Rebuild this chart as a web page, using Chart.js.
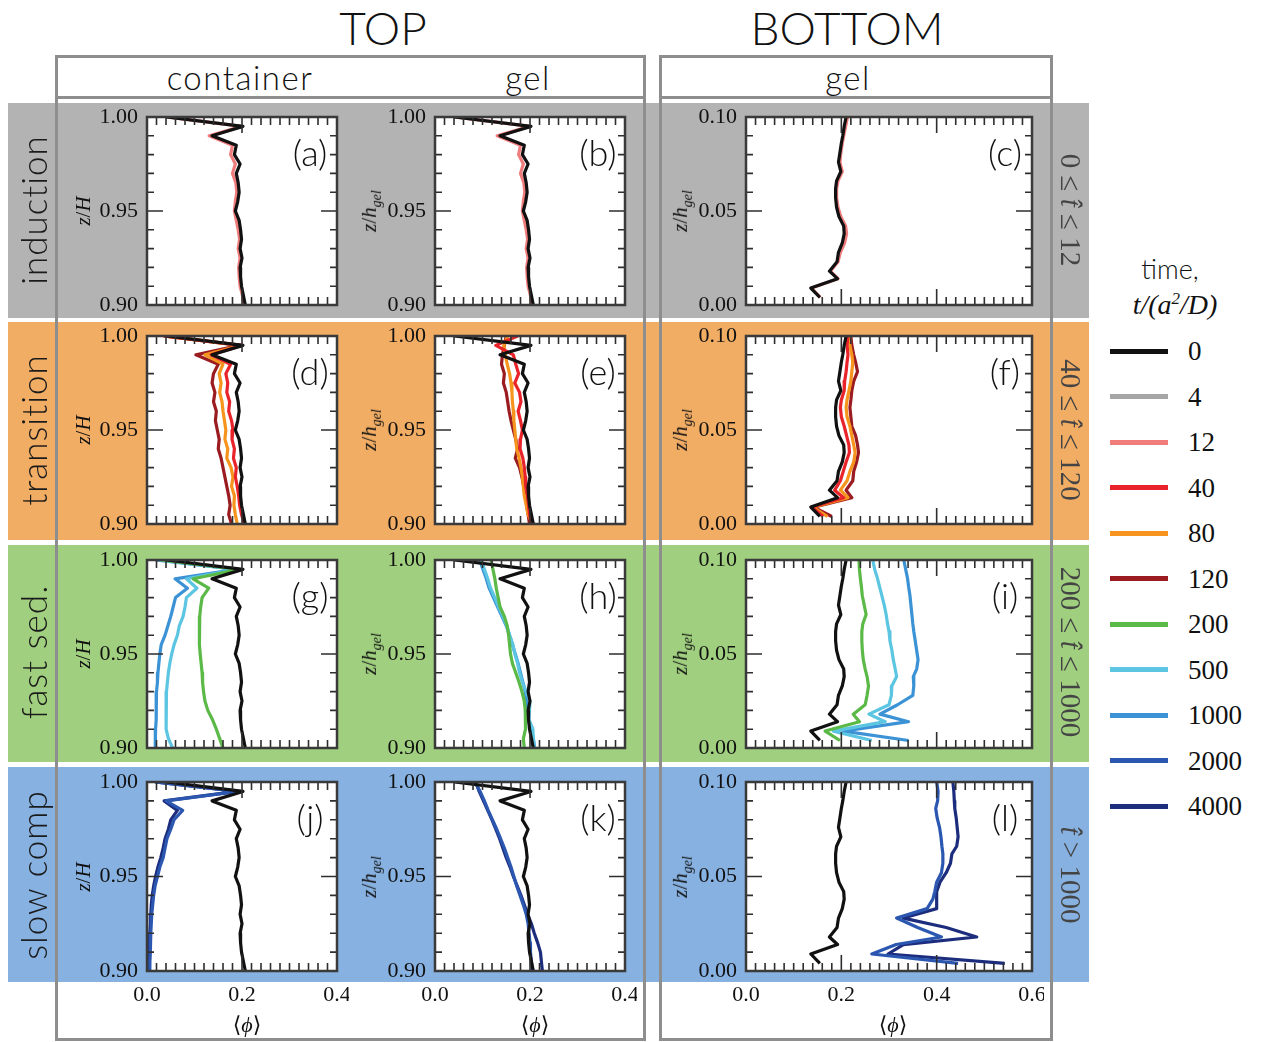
<!DOCTYPE html>
<html>
<head>
<meta charset="utf-8">
<title>volume fraction profiles</title>
<script src="https://cdn.jsdelivr.net/npm/chart.js@4.4.1/dist/chart.umd.min.js"></script>
<style>
  html, body { margin: 0; padding: 0; background: #fff; }
  body { position: relative; width: 1263px; height: 1042px; overflow: hidden; font-family: "Lato", "Open Sans", sans-serif; font-weight: 300; color: #111; }
  .band { position: absolute; left: 8px; width: 1081px; }
  .frame { position: absolute; border: 3px solid #8e8e8e; box-sizing: border-box; }
  .hline { position: absolute; height: 3px; background: #8e8e8e; }
  .ctr { position: absolute; transform: translate(-50%, -50%); white-space: nowrap; }
  .rotl { transform: translate(-50%, -50%) rotate(-90deg); }
  .rotr { transform: translate(-50%, -50%) rotate(90deg); }
  .serif { font-family: "Liberation Serif", "DejaVu Serif", serif; font-weight: 400; }
  canvas { position: absolute; }
</style>
</head>
<body>
<div class="band" style="top:103px;height:215px;background:#b3b3b3"></div>
<div class="band" style="top:322px;height:218px;background:#f2ad65"></div>
<div class="band" style="top:545px;height:217px;background:#a0d07f"></div>
<div class="band" style="top:767px;height:215px;background:#87b1e0"></div>

<div class="frame" style="left:55px;top:55px;width:591px;height:986px"></div>
<div class="hline" style="left:55px;top:96px;width:591px"></div>
<div class="frame" style="left:659px;top:55px;width:394px;height:986px"></div>
<div class="hline" style="left:659px;top:96px;width:394px"></div>

<div class="ctr" style="left:383px;top:27px;font-size:46px">TOP</div>
<div class="ctr" style="left:847px;top:27px;font-size:46px">BOTTOM</div>
<div class="ctr" style="left:240px;top:77px;font-size:33px;letter-spacing:1.5px">container</div>
<div class="ctr" style="left:528px;top:77px;font-size:33px;letter-spacing:1.5px">gel</div>
<div class="ctr" style="left:848px;top:77px;font-size:33px;letter-spacing:1.5px">gel</div>

<div class="ctr" style="left:1170px;top:268px;font-size:27px">time,</div>
<div class="ctr serif" style="left:1175px;top:305px;font-size:28px;font-style:italic">t/(a<sup style="font-size:17px">2</sup>/D)</div>

<script>
// z grids (bins) for the top panels (z/H, z/h_gel near 1) and the bottom panels
const zTop = [1.000, 0.995, 0.990, 0.985, 0.980, 0.975, 0.970, 0.965, 0.960, 0.955, 0.950,
              0.945, 0.940, 0.935, 0.930, 0.925, 0.920, 0.915, 0.910, 0.905, 0.900];
const zBot = [0.100, 0.095, 0.090, 0.086, 0.081, 0.076, 0.071, 0.066, 0.062, 0.057, 0.052,
              0.047, 0.042, 0.038, 0.033, 0.028, 0.023, 0.018, 0.014, 0.009, 0.004];

const timeLabels = ['0', '4', '12', '40', '80', '120', '200', '500', '1000', '2000', '4000'];
const timeColors = ['#111111', '#a6a6a6', '#f07c7c', '#e8232a', '#f7941d', '#9b1c20',
                    '#5bb947', '#5cc6e2', '#3b93d6', '#2b57b1', '#1c2d7d'];

const rowNames = ['induction', 'transition', 'fast sed.', 'slow comp'];
const rowRanges = ['0 ≤ <i>t̂</i> ≤ 12', '40 ≤ <i>t̂</i> ≤ 120', '200 ≤ <i>t̂</i> ≤ 1000', '<i>t̂</i> &gt; 1000'];

const topYTicks = ['0.90', '0.95', '1.00'];
const botYTicks = ['0.00', '0.05', '0.10'];
const topXTicks = ['0.0', '0.2', '0.4'];
const botXTicks = ['0.0', '0.2', '0.4', '0.6'];

// <phi> profiles, top region (same initial profile in container and gel)
const topT0  = [0.041, 0.202, 0.137, 0.188, 0.184, 0.196, 0.188, 0.192, 0.194, 0.191, 0.186, 0.194, 0.197, 0.199, 0.196, 0.200, 0.196, 0.197, 0.199, 0.203, 0.207];
const topT12 = [0.041, 0.200, 0.131, 0.180, 0.176, 0.186, 0.180, 0.187, 0.189, 0.186, 0.184, 0.188, 0.192, 0.195, 0.192, 0.196, 0.193, 0.194, 0.196, 0.201, 0.205];

// container, top
const contT40   = [0.035, 0.200, 0.135, 0.176, 0.166, 0.170, 0.168, 0.174, 0.172, 0.178, 0.181, 0.179, 0.184, 0.182, 0.188, 0.186, 0.190, 0.193, 0.195, 0.199, 0.205];
const contT80   = [0.035, 0.198, 0.122, 0.160, 0.152, 0.156, 0.153, 0.158, 0.160, 0.163, 0.166, 0.164, 0.170, 0.168, 0.177, 0.181, 0.178, 0.184, 0.183, 0.186, 0.190];
const contT120  = [0.035, 0.195, 0.103, 0.150, 0.140, 0.137, 0.143, 0.140, 0.146, 0.144, 0.148, 0.152, 0.150, 0.156, 0.160, 0.164, 0.168, 0.172, 0.175, 0.172, 0.178];
const contT200  = [0.030, 0.195, 0.097, 0.130, 0.116, 0.113, 0.111, 0.111, 0.110, 0.110, 0.112, 0.114, 0.116, 0.117, 0.119, 0.122, 0.128, 0.138, 0.146, 0.153, 0.160];
const contT500  = [0.025, 0.190, 0.083, 0.105, 0.083, 0.080, 0.076, 0.068, 0.064, 0.057, 0.052, 0.048, 0.045, 0.043, 0.041, 0.040, 0.040, 0.040, 0.041, 0.045, 0.054];
const contT1000 = [0.018, 0.188, 0.059, 0.085, 0.060, 0.055, 0.050, 0.044, 0.038, 0.030, 0.027, 0.025, 0.023, 0.022, 0.020, 0.020, 0.019, 0.019, 0.018, 0.018, 0.017];
const contT2000 = [0.017, 0.192, 0.040, 0.075, 0.057, 0.050, 0.042, 0.038, 0.034, 0.027, 0.022, 0.017, 0.014, 0.012, 0.010, 0.009, 0.008, 0.007, 0.007, 0.006, 0.006];
const contT4000 = [0.017, 0.190, 0.036, 0.064, 0.050, 0.045, 0.038, 0.034, 0.029, 0.023, 0.018, 0.014, 0.011, 0.009, 0.008, 0.007, 0.006, 0.005, 0.005, 0.005, 0.005];

// gel, top
const gelT40   = [0.174, 0.128, 0.165, 0.170, 0.176, 0.168, 0.178, 0.181, 0.175, 0.180, 0.184, 0.180, 0.179, 0.185, 0.188, 0.190, 0.191, 0.195, 0.197, 0.199, 0.203];
const gelT80   = [0.153, 0.145, 0.148, 0.152, 0.157, 0.160, 0.162, 0.163, 0.165, 0.166, 0.168, 0.170, 0.172, 0.177, 0.181, 0.184, 0.186, 0.188, 0.192, 0.196, 0.205];
const gelT120  = [0.150, 0.146, 0.142, 0.140, 0.146, 0.144, 0.150, 0.153, 0.156, 0.160, 0.165, 0.170, 0.174, 0.169, 0.178, 0.183, 0.187, 0.190, 0.193, 0.196, 0.199];
const gelT200  = [0.118, 0.122, 0.126, 0.129, 0.133, 0.137, 0.146, 0.152, 0.155, 0.157, 0.159, 0.163, 0.170, 0.177, 0.183, 0.188, 0.190, 0.191, 0.190, 0.186, 0.188];
const gelT500  = [0.097, 0.104, 0.111, 0.117, 0.126, 0.134, 0.143, 0.151, 0.157, 0.164, 0.168, 0.174, 0.178, 0.184, 0.192, 0.200, 0.199, 0.198, 0.206, 0.207, 0.209];
const gelT1000 = [0.094, 0.101, 0.108, 0.114, 0.123, 0.132, 0.141, 0.150, 0.157, 0.163, 0.169, 0.175, 0.180, 0.185, 0.190, 0.193, 0.196, 0.196, 0.203, 0.207, 0.210];
const gelT2000 = [0.084, 0.095, 0.104, 0.112, 0.121, 0.130, 0.138, 0.146, 0.153, 0.160, 0.166, 0.172, 0.179, 0.186, 0.192, 0.196, 0.198, 0.200, 0.201, 0.203, 0.205];
const gelT4000 = [0.086, 0.093, 0.102, 0.111, 0.120, 0.128, 0.136, 0.143, 0.150, 0.158, 0.165, 0.173, 0.181, 0.188, 0.195, 0.203, 0.209, 0.216, 0.222, 0.224, 0.226];

// gel, bottom
const botT0    = [0.210, 0.206, 0.203, 0.200, 0.197, 0.194, 0.199, 0.190, 0.188, 0.188, 0.190, 0.195, 0.205, 0.206, 0.202, 0.194, 0.191, 0.175, 0.192, 0.136, 0.155];
const botT12   = [0.213, 0.209, 0.205, 0.202, 0.199, 0.197, 0.202, 0.193, 0.190, 0.190, 0.193, 0.199, 0.209, 0.211, 0.207, 0.198, 0.193, 0.177, 0.193, 0.137, 0.156];
const botT40   = [0.214, 0.212, 0.214, 0.212, 0.210, 0.207, 0.206, 0.200, 0.198, 0.200, 0.206, 0.211, 0.216, 0.217, 0.210, 0.204, 0.198, 0.186, 0.205, 0.138, 0.162];
const botT80   = [0.217, 0.218, 0.222, 0.224, 0.222, 0.220, 0.216, 0.212, 0.210, 0.212, 0.218, 0.222, 0.226, 0.229, 0.226, 0.218, 0.212, 0.198, 0.214, 0.140, 0.171];
const botT120  = [0.220, 0.222, 0.226, 0.230, 0.234, 0.226, 0.222, 0.220, 0.218, 0.220, 0.222, 0.230, 0.234, 0.236, 0.232, 0.226, 0.224, 0.210, 0.222, 0.142, 0.180];
const botT200  = [0.237, 0.238, 0.240, 0.242, 0.244, 0.248, 0.252, 0.245, 0.243, 0.243, 0.244, 0.246, 0.250, 0.254, 0.257, 0.254, 0.250, 0.225, 0.238, 0.166, 0.197];
const botT500  = [0.266, 0.270, 0.276, 0.280, 0.285, 0.290, 0.294, 0.297, 0.300, 0.302, 0.306, 0.309, 0.313, 0.316, 0.306, 0.305, 0.300, 0.258, 0.292, 0.183, 0.264];
const botT1000 = [0.331, 0.335, 0.339, 0.341, 0.344, 0.346, 0.348, 0.350, 0.352, 0.355, 0.358, 0.361, 0.358, 0.351, 0.352, 0.350, 0.318, 0.281, 0.341, 0.204, 0.341];
const botT2000 = [0.400, 0.403, 0.402, 0.398, 0.401, 0.406, 0.409, 0.411, 0.413, 0.413, 0.410, 0.400, 0.396, 0.392, 0.380, 0.316, 0.360, 0.410, 0.315, 0.264, 0.445];
const botT4000 = [0.434, 0.436, 0.437, 0.438, 0.441, 0.443, 0.445, 0.442, 0.432, 0.429, 0.420, 0.407, 0.400, 0.400, 0.400, 0.330, 0.420, 0.484, 0.330, 0.298, 0.543];

// panels: [time index, profile]; first entry is drawn on top
const panels = [
  { tag: 'a', col: 0, row: 0, sets: [[0, topT0], [2, topT12]] },
  { tag: 'b', col: 1, row: 0, sets: [[0, topT0], [2, topT12]] },
  { tag: 'c', col: 2, row: 0, sets: [[0, botT0], [2, botT12]] },
  { tag: 'd', col: 0, row: 1, sets: [[0, topT0], [3, contT40], [4, contT80], [5, contT120]] },
  { tag: 'e', col: 1, row: 1, sets: [[0, topT0], [3, gelT40], [4, gelT80], [5, gelT120]] },
  { tag: 'f', col: 2, row: 1, sets: [[0, botT0], [3, botT40], [4, botT80], [5, botT120]] },
  { tag: 'g', col: 0, row: 2, sets: [[0, topT0], [6, contT200], [7, contT500], [8, contT1000]] },
  { tag: 'h', col: 1, row: 2, sets: [[0, topT0], [6, gelT200], [7, gelT500], [8, gelT1000]] },
  { tag: 'i', col: 2, row: 2, sets: [[0, botT0], [6, botT200], [7, botT500], [8, botT1000]] },
  { tag: 'j', col: 0, row: 3, sets: [[0, topT0], [9, contT2000], [10, contT4000]] },
  { tag: 'k', col: 1, row: 3, sets: [[0, topT0], [9, gelT2000], [10, gelT4000]] },
  { tag: 'l', col: 2, row: 3, sets: [[0, botT0], [9, botT2000], [10, botT4000]] }
];

const colBox = [[147, 337], [435, 625], [746, 1032]];
const rowBox = [[117, 305], [336, 524], [560, 748], [782, 971]];
const PL = 66, PT = 14, PR = 12, PB = 42;

function addText(html, x, y, cls, style) {
  const d = document.createElement('div');
  d.className = 'ctr ' + (cls || '');
  d.style.left = x + 'px';
  d.style.top = y + 'px';
  d.style.cssText += style || '';
  d.innerHTML = html;
  document.body.appendChild(d);
  return d;
}

// frame with inward ticks on all four sides, plus tick labels
function boxTicks(yTicks, xTicks) {
  return {
    id: 'boxTicks',
    beforeDraw(chart) {
      const { ctx, chartArea: a } = chart;
      ctx.save();
      ctx.fillStyle = '#ffffff';
      ctx.fillRect(a.left, a.top, a.right - a.left, a.bottom - a.top);
      ctx.restore();
    },
    afterDatasetsDraw(chart) {
      const { ctx, chartArea: a, scales } = chart;
      const x = scales.x, y = scales.y;
      ctx.save();
      ctx.strokeStyle = '#2e2e2e';
      ctx.lineWidth = 1.6;
      ctx.beginPath();
      const nx = Math.round(x.max / 0.02);
      for (let i = 0; i <= nx; i++) {
        const px = x.getPixelForValue(i * 0.02);
        const len = i % 10 === 0 ? 16 : 8;
        ctx.moveTo(px, a.top); ctx.lineTo(px, a.top + len);
        ctx.moveTo(px, a.bottom); ctx.lineTo(px, a.bottom - len);
      }
      for (let i = 0; i <= 10; i++) {
        const py = y.getPixelForValue(y.min + i * 0.01);
        const len = i % 5 === 0 ? 16 : 7;
        ctx.moveTo(a.left, py); ctx.lineTo(a.left + len, py);
        ctx.moveTo(a.right, py); ctx.lineTo(a.right - len, py);
      }
      ctx.stroke();
      ctx.strokeStyle = '#3a3a3a';
      ctx.lineWidth = 2.5;
      ctx.strokeRect(a.left, a.top, a.right - a.left, a.bottom - a.top);

      ctx.fillStyle = '#111';
      ctx.font = '22px "Liberation Serif", serif';
      ctx.textAlign = 'right';
      ctx.textBaseline = 'middle';
      yTicks.forEach(s => ctx.fillText(s, a.left - 9, y.getPixelForValue(parseFloat(s))));
      if (xTicks) {
        ctx.textAlign = 'center';
        xTicks.forEach(s => ctx.fillText(s, x.getPixelForValue(parseFloat(s)), a.bottom + 24));
      }
      ctx.restore();
    }
  };
}

function makePanel(p) {
  const [l, r] = colBox[p.col];
  const [t, b] = rowBox[p.row];
  const isBottom = p.col === 2;
  const zs = isBottom ? zBot : zTop;
  const w = r - l + PL + PR, h = b - t + PT + PB;
  const cv = document.createElement('canvas');
  cv.width = w; cv.height = h;
  cv.style.left = (l - PL) + 'px';
  cv.style.top = (t - PT) + 'px';
  cv.style.width = w + 'px';
  cv.style.height = h + 'px';
  document.body.appendChild(cv);

  const datasets = p.sets.map(([ti, phi]) => ({
    label: timeLabels[ti],
    data: phi.map((v, i) => ({ x: v, y: zs[i] })),
    borderColor: timeColors[ti],
    backgroundColor: timeColors[ti],
    borderWidth: 3.2,
    borderJoinStyle: 'round',
    showLine: true,
    pointRadius: 0,
    tension: 0
  }));

  const yMin = isBottom ? 0 : 0.9;
  new Chart(cv, {
    type: 'scatter',
    data: { datasets },
    options: {
      responsive: false,
      animation: false,
      devicePixelRatio: 1,
      layout: { padding: { left: PL, top: PT, right: PR, bottom: PB } },
      plugins: { legend: { display: false }, tooltip: { enabled: false } },
      scales: {
        x: { type: 'linear', min: 0, max: isBottom ? 0.6 : 0.4, display: false },
        y: { type: 'linear', min: yMin, max: yMin + 0.1, display: false }
      }
    },
    plugins: [boxTicks(isBottom ? botYTicks : topYTicks,
                       p.row === 3 ? (isBottom ? botXTicks : topXTicks) : null)]
  });

  addText('(' + p.tag + ')', r - 27, t + 35, '', 'font-size:36px;color:#111');
  const yTitle = p.col === 0 ? '<i>z</i>/<i>H</i>' : '<i>z</i>/<i>h</i><sub style="font-size:14px;font-style:italic">gel</sub>';
  addText(yTitle, l - 64, (t + b) / 2, 'serif rotl', 'font-size:21px');
}

panels.forEach(makePanel);

// row labels, left and right
const rowMid = [210, 430, 652, 875];
rowNames.forEach((s, i) => addText(s, 33, rowMid[i], 'rotl', 'font-size:35px;letter-spacing:1px;color:#1a1a1a'));
rowRanges.forEach((s, i) => addText(s, 1070, rowMid[i], 'serif rotr', 'font-size:29px;color:#444'));

// x-axis titles
[247, 535, 893].forEach(x => addText('⟨<i>ϕ</i>⟩', x, 1025, 'serif', 'font-size:22px'));

// legend
timeLabels.forEach((s, i) => {
  const y = 351 + i * 45.5;
  const ln = document.createElement('div');
  ln.style.cssText = 'position:absolute;left:1110px;width:58px;height:5px;top:' + (y - 2.5) + 'px;background:' + timeColors[i];
  document.body.appendChild(ln);
  const tx = document.createElement('div');
  tx.className = 'serif';
  tx.style.cssText += 'position:absolute;left:1188px;font-size:27px;line-height:30px;top:' + (y - 15) + 'px';
  tx.textContent = s;
  document.body.appendChild(tx);
});
</script>
</body>
</html>
